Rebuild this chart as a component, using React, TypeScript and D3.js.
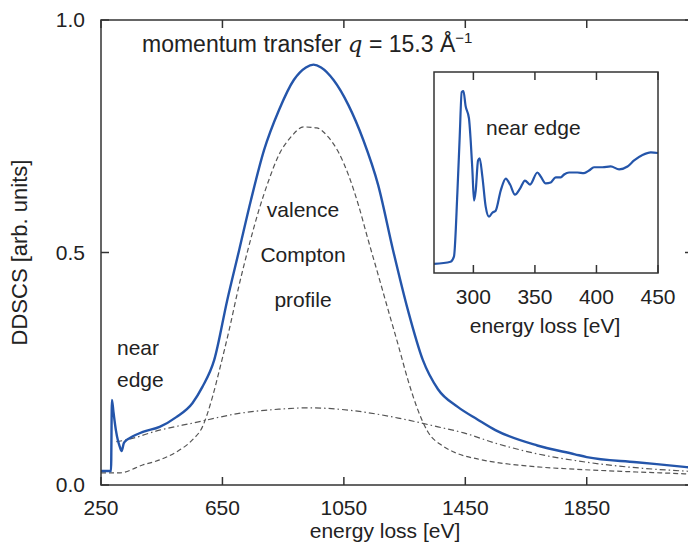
import React from 'react';
import * as d3 from 'd3';

const WIDTH = 688;
const HEIGHT = 546;

// main panel
const MAIN = { left: 101, right: 693, top: 20, bottom: 485 };
// inset panel
const INSET = { left: 434, right: 658, top: 72, bottom: 273 };

const xTicks = [250, 650, 1050, 1450, 1850];
const yTicks = [0, 0.5, 1];
const insetTicks = [300, 350, 400, 450];

// measured spectrum (energy loss eV, DDSCS)
const totalE = [250, 283, 286, 291, 299, 306, 312, 318, 325, 335, 345, 388, 443, 498, 551, 584, 623, 666, 705, 744, 787, 836, 885, 925, 950, 975, 1016, 1065, 1114, 1163, 1212, 1261, 1310, 1360, 1425, 1490, 1549, 1687, 1811, 1850, 2014, 2171, 2200];
const totalV = [0.03, 0.03, 0.183, 0.157, 0.118, 0.095, 0.082, 0.073, 0.09, 0.097, 0.101, 0.114, 0.125, 0.146, 0.176, 0.211, 0.269, 0.398, 0.505, 0.613, 0.72, 0.806, 0.871, 0.898, 0.904, 0.898, 0.871, 0.817, 0.742, 0.645, 0.505, 0.376, 0.269, 0.206, 0.168, 0.141, 0.118, 0.085, 0.066, 0.06, 0.049, 0.039, 0.037];

// valence Compton profile (dashed)
const valenceE = [250, 312, 387, 443, 498, 551, 584, 617, 640, 672, 705, 738, 770, 803, 836, 875, 918, 960, 999, 1032, 1065, 1098, 1130, 1163, 1196, 1229, 1261, 1294, 1327, 1376, 1419, 1490, 1549, 1687, 1811, 2014, 2171, 2200];
const valenceV = [0.026, 0.026, 0.043, 0.054, 0.071, 0.097, 0.125, 0.189, 0.247, 0.333, 0.43, 0.516, 0.591, 0.656, 0.71, 0.748, 0.77, 0.768, 0.748, 0.716, 0.667, 0.602, 0.527, 0.452, 0.376, 0.301, 0.226, 0.161, 0.114, 0.084, 0.069, 0.056, 0.049, 0.039, 0.034, 0.028, 0.024, 0.023];

// core contribution (dash-dot)
const coreE = [300, 334, 443, 551, 715, 836, 934, 1065, 1229, 1360, 1445, 1549, 1687, 1850, 2171, 2200];
const coreV = [0.093, 0.097, 0.118, 0.133, 0.155, 0.163, 0.166, 0.161, 0.144, 0.125, 0.112, 0.09, 0.067, 0.049, 0.03, 0.029];

// near-edge inset
const edgeE = [268, 281.5, 284.2, 287, 288.9, 290.5, 291.9, 293.7, 296.4, 297.8, 299.2, 300.5, 301.9, 303.8, 305.1, 307.3, 310, 312.7, 315.4, 318.1, 322.2, 326.3, 329.8, 333.8, 337.9, 341.9, 346, 352, 354.7, 358.8, 362.8, 366.9, 371, 373.7, 377.7, 384.5, 389.9, 394, 398, 404.9, 411.6, 418.4, 425.2, 430.6, 437.4, 444.2, 450];
const edgeV = [0.045, 0.056, 0.081, 0.4, 0.68, 0.9, 0.905, 0.83, 0.77, 0.66, 0.51, 0.36, 0.41, 0.56, 0.57, 0.48, 0.33, 0.28, 0.3, 0.31, 0.41, 0.47, 0.44, 0.39, 0.42, 0.46, 0.44, 0.5, 0.48, 0.446, 0.45, 0.476, 0.476, 0.49, 0.5, 0.5, 0.497, 0.51, 0.526, 0.526, 0.53, 0.516, 0.53, 0.56, 0.587, 0.6, 0.597];

const FONT = 'Liberation Sans, Arial, sans-serif';
const AXIS = '#333';
const BLUE = '#2455aa';
const GREY = '#555';

const zip = (xs: number[], ys: number[]) => xs.map((x, i) => [x, ys[i]] as [number, number]);

export default function App() {
  const x = d3.scaleLinear().domain([250, 2200]).range([MAIN.left, MAIN.right]);
  const y = d3.scaleLinear().domain([0, 1]).range([MAIN.bottom, MAIN.top]);

  const xi = d3.scaleLinear().domain([268, 450]).range([INSET.left, INSET.right]);
  const yi = d3.scaleLinear().domain([0, 1]).range([INSET.bottom, INSET.top]);

  const mainLine = d3.line<[number, number]>()
    .x(d => x(d[0]))
    .y(d => y(d[1]))
    .curve(d3.curveMonotoneX);

  const insetLine = d3.line<[number, number]>()
    .x(d => xi(d[0]))
    .y(d => yi(d[1]))
    .curve(d3.curveMonotoneX);

  const tickLen = 8;

  return (
    <svg width={WIDTH} height={HEIGHT} style={{ position: 'absolute', left: 0, top: 0 }}>
      <rect width={WIDTH} height={HEIGHT} fill="#fff" />
      <defs>
        <clipPath id="mainClip">
          <rect x={MAIN.left} y={MAIN.top} width={MAIN.right - MAIN.left} height={MAIN.bottom - MAIN.top} />
        </clipPath>
      </defs>

      {/* curves */}
      <g clipPath="url(#mainClip)" fill="none">
        <path d={mainLine(zip(coreE, coreV)) ?? ''} stroke={GREY} strokeWidth={1.2} strokeDasharray="6,3,1.5,3" />
        <path d={mainLine(zip(valenceE, valenceV)) ?? ''} stroke={GREY} strokeWidth={1.2} strokeDasharray="5,3" />
        <path d={mainLine(zip(totalE, totalV)) ?? ''} stroke={BLUE} strokeWidth={2.4} />
      </g>

      {/* main frame */}
      <rect x={MAIN.left} y={MAIN.top} width={MAIN.right - MAIN.left} height={MAIN.bottom - MAIN.top}
        fill="none" stroke={AXIS} strokeWidth={1.5} />
      {xTicks.map(t => (
        <g key={t}>
          <line x1={x(t)} x2={x(t)} y1={MAIN.bottom} y2={MAIN.bottom - tickLen} stroke={AXIS} strokeWidth={1.5} />
          <line x1={x(t)} x2={x(t)} y1={MAIN.top} y2={MAIN.top + tickLen} stroke={AXIS} strokeWidth={1.5} />
          <text x={x(t)} y={MAIN.bottom + 30} textAnchor="middle" fontFamily={FONT} fontSize={21} fill="#222">{t}</text>
        </g>
      ))}
      {yTicks.map(t => (
        <g key={t}>
          <line x1={MAIN.left} x2={MAIN.left + tickLen} y1={y(t)} y2={y(t)} stroke={AXIS} strokeWidth={1.5} />
          <line x1={MAIN.right} x2={MAIN.right - tickLen} y1={y(t)} y2={y(t)} stroke={AXIS} strokeWidth={1.5} />
          <text x={MAIN.left - 16} y={y(t) + 7} textAnchor="end" fontFamily={FONT} fontSize={21} fill="#222">{t.toFixed(1)}</text>
        </g>
      ))}
      <text x={385} y={538} textAnchor="middle" fontFamily={FONT} fontSize={21} fill="#222">energy loss [eV]</text>
      <text transform={`translate(27,${y(0.5)}) rotate(-90)`} textAnchor="middle" fontFamily={FONT} fontSize={22} fill="#222">DDSCS [arb. units]</text>

      {/* annotations */}
      <text x={142} y={52} fontFamily={FONT} fontSize={23} fill="#222">
        momentum transfer <tspan fontFamily="DejaVu Serif, serif" fontStyle="italic">q</tspan> = 15.3 Å
        <tspan dy={-9} fontSize={15}>−1</tspan>
      </text>
      <g fontFamily={FONT} fontSize={21} fill="#222" textAnchor="middle">
        <text x={303} y={217}>valence</text>
        <text x={303} y={262}>Compton</text>
        <text x={303} y={307}>profile</text>
      </g>
      <g fontFamily={FONT} fontSize={21} fill="#222">
        <text x={117} y={355}>near</text>
        <text x={117} y={387}>edge</text>
      </g>

      {/* inset */}
      <rect x={INSET.left} y={INSET.top} width={INSET.right - INSET.left} height={INSET.bottom - INSET.top} fill="#fff" />
      <path d={insetLine(zip(edgeE, edgeV)) ?? ''} fill="none" stroke={BLUE} strokeWidth={2.2} />
      <rect x={INSET.left} y={INSET.top} width={INSET.right - INSET.left} height={INSET.bottom - INSET.top}
        fill="none" stroke={AXIS} strokeWidth={1.5} />
      {insetTicks.map(t => (
        <g key={t}>
          <line x1={xi(t)} x2={xi(t)} y1={INSET.bottom} y2={INSET.bottom - tickLen} stroke={AXIS} strokeWidth={1.5} />
          <line x1={xi(t)} x2={xi(t)} y1={INSET.top} y2={INSET.top + tickLen} stroke={AXIS} strokeWidth={1.5} />
          <text x={xi(t)} y={INSET.bottom + 31} textAnchor="middle" fontFamily={FONT} fontSize={21} fill="#222">{t}</text>
        </g>
      ))}
      <text x={545} y={333} textAnchor="middle" fontFamily={FONT} fontSize={21} fill="#222">energy loss [eV]</text>
      <text x={486} y={135} fontFamily={FONT} fontSize={21} fill="#222">near edge</text>
    </svg>
  );
}
